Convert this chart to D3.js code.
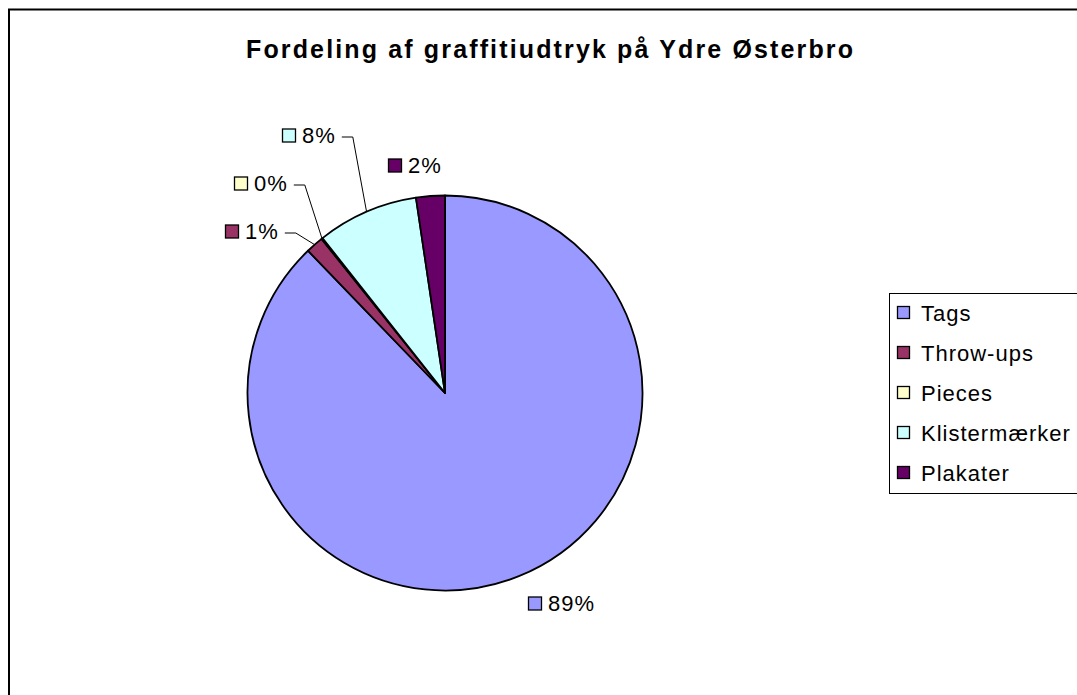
<!DOCTYPE html>
<html>
<head>
<meta charset="utf-8">
<script src="https://cdn.jsdelivr.net/npm/d3@7"></script>
<style>
  body { margin: 0; background: #fff; }
  svg { display: block; font-family: "Liberation Sans", Arial, sans-serif; }
</style>
</head>
<body>
<div id="chart"></div>
<script>
// data
var categories = ["Tags", "Throw-ups", "Pieces", "Klistermærker", "Plakater"];
var shares = [87.8, 1.45, 0.1, 8.3, 2.35];
var pctLabels = ["89%", "1%", "0%", "8%", "2%"];
var colors = ["#9999ff", "#993366", "#ffffcc", "#ccffff", "#660066"];
var title = "Fordeling af graffitiudtryk på Ydre Østerbro";

// where Excel put the data labels (marker left x, text baseline y), and if they have a leader
var labelLayout = [
  {x: 528, y: 611, leader: false},
  {x: 225, y: 239, leader: true},
  {x: 234, y: 191, leader: true},
  {x: 282, y: 143, leader: true},
  {x: 388, y: 173, leader: false}
];

var width = 1077, height = 695;
var cx = 445, cy = 393, r = 197.5;

var svg = d3.select("#chart")
    .append("svg")
    .attr("width", width)
    .attr("height", height);

// chart area frame
svg.append("rect")
    .attr("x", 9).attr("y", 9.5)
    .attr("width", width + 20).attr("height", height + 20)
    .attr("fill", "#fff")
    .attr("stroke", "#000")
    .attr("stroke-width", 2);

svg.append("text")
    .attr("x", 246).attr("y", 58)
    .attr("textLength", 607)
    .attr("lengthAdjust", "spacing")
    .style("font-size", "25px")
    .style("font-weight", "bold")
    .text(title);

var data = categories.map(function(c, i){ return {name: c, value: shares[i], color: colors[i], label: pctLabels[i], lay: labelLayout[i]}; });

var pie = d3.pie().sort(null).value(function(d){ return d.value; });
var arcs = pie(data);
var arc = d3.arc().innerRadius(0).outerRadius(r);
var rim = d3.arc().innerRadius(r).outerRadius(r);

var g = svg.append("g").attr("transform", "translate(" + cx + "," + cy + ")");

g.selectAll("path")
    .data(arcs)
    .enter()
    .append("path")
    .attr("d", arc)
    .attr("fill", function(d){ return d.data.color; })
    .attr("stroke", "#000")
    .attr("stroke-width", 1.8)
    .attr("stroke-linejoin", "round");

// data labels
var lab = svg.append("g");
arcs.forEach(function(d){
    var L = d.data.lay;
    lab.append("rect")
        .attr("x", L.x + 0.5).attr("y", L.y - 14)
        .attr("width", 13).attr("height", 13)
        .attr("fill", d.data.color)
        .attr("stroke", "#000")
        .attr("stroke-width", 1.3);
    var t = lab.append("text")
        .attr("x", L.x + 20).attr("y", L.y)
        .style("font-size", "22px")
        .style("letter-spacing", "1px")
        .text(d.data.label);
    if (L.leader) {
        var end = L.x + 20 + t.node().getComputedTextLength() + 6;
        var p = rim.centroid(d);
        var y0 = L.y - 6;
        lab.append("path")
            .attr("d", "M" + end + "," + y0 + "H" + (end + 11) + "L" + (cx + p[0]) + "," + (cy + p[1]))
            .attr("fill", "none")
            .attr("stroke", "#000")
            .attr("stroke-width", 1);
    }
});

// legend
var legX = 889, legY = 293, rowH = 40;
svg.append("rect")
    .attr("x", legX + 0.5).attr("y", legY + 0.5)
    .attr("width", 300).attr("height", 200)
    .attr("fill", "#fff")
    .attr("stroke", "#000")
    .attr("stroke-width", 1);

var leg = svg.append("g").selectAll("g")
    .data(data)
    .enter()
    .append("g")
    .attr("transform", function(d, i){ return "translate(" + legX + "," + (legY + 20 + i * rowH) + ")"; });

leg.append("rect")
    .attr("x", 8.5).attr("y", -6.5)
    .attr("width", 12).attr("height", 12)
    .attr("fill", function(d){ return d.color; })
    .attr("stroke", "#000")
    .attr("stroke-width", 1.3);

leg.append("text")
    .attr("x", 32).attr("y", 8)
    .style("font-size", "22px")
    .style("letter-spacing", "1px")
    .text(function(d){ return d.name; });
</script>
</body>
</html>
